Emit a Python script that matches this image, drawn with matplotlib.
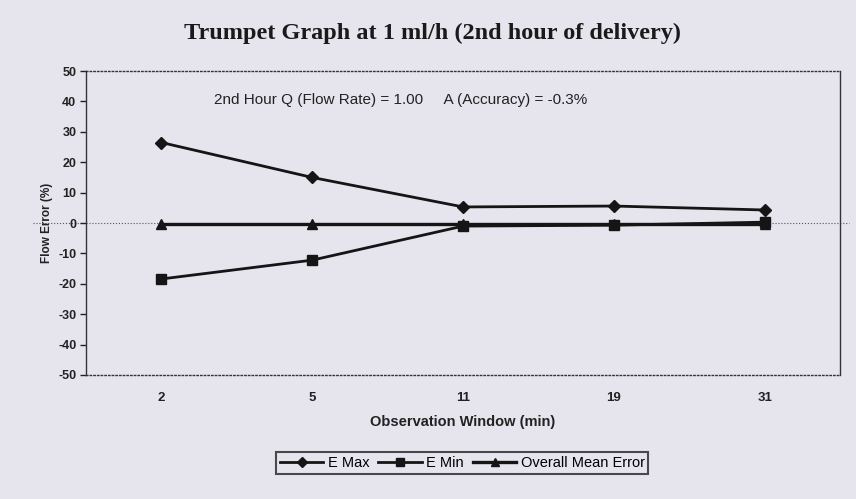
# libraries
import numpy as np
import matplotlib.pyplot as plt

plt.rcParams['axes.unicode_minus'] = False

# data
windows = ['2', '5', '11', '19', '31']
e_max = [26.5, 15.0, 5.3, 5.6, 4.3]
e_min = [-18.4, -12.2, -1.0, -0.7, 0.3]
mean_err = [-0.3, -0.3, -0.3, -0.3, -0.3]

bg = '#e6e5ee'
fig = plt.figure(figsize=(8.56, 4.99), dpi=100, facecolor=bg)
ax = fig.add_axes([0.1005, 0.2485, 0.881, 0.609], facecolor=bg)

x = np.arange(len(windows))

# zero reference line, runs past the frame like the scan
ax.axhline(0, xmin=-0.07, xmax=1.012, color='#555555', lw=0.8, ls=':', clip_on=False, zorder=1)

ax.plot(x, e_max, color='#151515', lw=2.0, marker='D', ms=6, label='E Max', zorder=3)
ax.plot(x, e_min, color='#151515', lw=2.0, marker='s', ms=7, label='E Min', zorder=3)
ax.plot(x, mean_err, color='#151515', lw=2.4, marker='^', ms=7, label='Overall Mean Error', zorder=3)

ax.set_xlim(-0.5, 4.5)
ax.set_ylim(-50, 50)
ax.set_yticks(range(-50, 51, 10))
ax.set_xticks(x)
ax.set_xticklabels(windows)

for s in ax.spines.values():
    s.set_color('#333333')
    s.set_linewidth(1.0)
ax.spines['top'].set_linestyle(':')
ax.spines['bottom'].set_linestyle(':')

ax.tick_params(axis='y', direction='out', length=4, width=1, labelsize=9, pad=3, colors='#222222')
ax.tick_params(axis='x', length=0, labelsize=9.5, pad=12, colors='#222222')
for t in ax.get_xticklabels() + ax.get_yticklabels():
    t.set_fontfamily('Liberation Sans')
    t.set_fontweight('bold')

ax.set_xlabel('Observation Window (min)', fontfamily='Liberation Sans', fontweight='bold',
              fontsize=10.5, labelpad=8, color='#222222')
ax.set_ylabel('Flow Error (%)', fontfamily='Liberation Sans', fontweight='bold',
              fontsize=8.5, labelpad=4, color='#222222')

fig.suptitle('Trumpet Graph at 1 ml/h (2nd hour of delivery)', x=0.505, y=0.955,
             fontfamily='Liberation Serif', fontweight='bold', fontsize=17.5, color='#1a1a1a')

ax.text(0.17, 0.905, '2nd Hour Q (Flow Rate) = 1.00     A (Accuracy) = -0.3%',
        transform=ax.transAxes, fontfamily='Liberation Sans', fontsize=11, color='#222222',
        va='center', ha='left')

leg = fig.legend(loc='center', bbox_to_anchor=(0.54, 0.072), ncol=3, frameon=True,
                 fancybox=False, edgecolor='#222222', facecolor=bg,
                 prop={'family': 'Liberation Sans', 'size': 10.5},
                 handlelength=3, handletextpad=0.3, columnspacing=0.6,
                 borderpad=0.25, markerscale=0.8)
leg.get_frame().set_linewidth(1.5)

fig.savefig('out.png', dpi=100, facecolor=bg)
